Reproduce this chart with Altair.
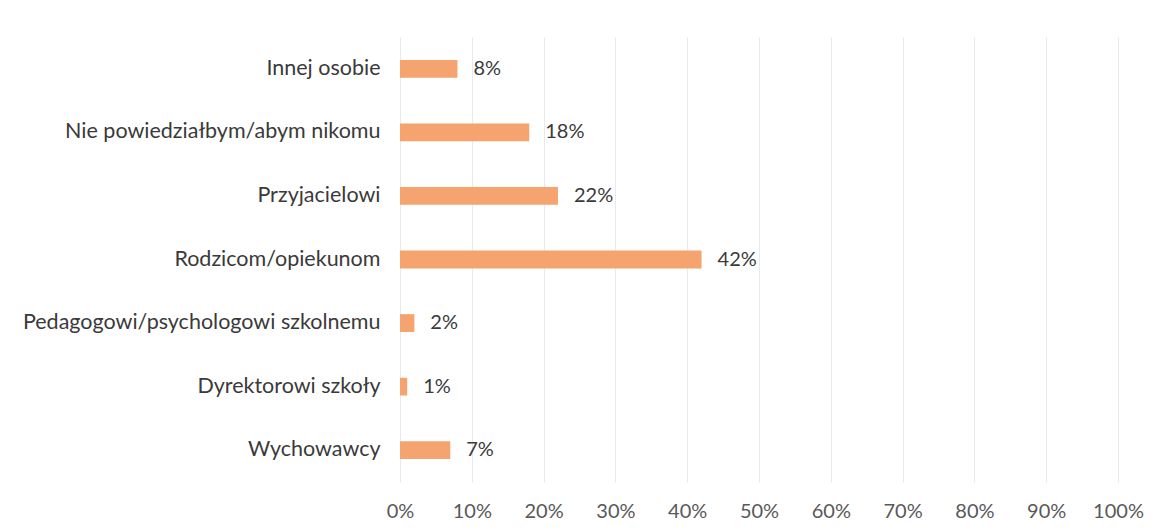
import altair as alt
import pandas as pd

categories = ["Innej osobie", "Nie powiedziałbym/abym nikomu", "Przyjacielowi",
              "Rodzicom/opiekunom", "Pedagogowi/psychologowi szkolnemu",
              "Dyrektorowi szkoły", "Wychowawcy"]
values = [8, 18, 22, 42, 2, 1, 7]

df = pd.DataFrame({"cat": categories, "val": values})
df["label"] = df["val"].astype(str) + "%"

FONT = "Lato"

y = alt.Y("cat:N", sort=categories, title=None,
          scale=alt.Scale(paddingInner=0.72, paddingOuter=0.36),
          axis=alt.Axis(domain=False, ticks=False, labelPadding=20, labelLimit=500,
                        labelFontSize=21.5, labelColor="#3a3a3a", labelFont=FONT,
                        grid=False))
x = alt.X("val:Q", title=None,
          scale=alt.Scale(domain=[0, 100]),
          axis=alt.Axis(values=list(range(0, 101, 10)), labelExpr="datum.value + '%'",
                        domain=False, ticks=False, labelPadding=19, labelFlush=False,
                        labelFontSize=20, labelColor="#595959", labelFont=FONT,
                        grid=True, gridColor="#e6eaf0", gridWidth=1))

bars = alt.Chart(df).mark_bar(color="#F5A46F").encode(x=x, y=y)
text = alt.Chart(df).mark_text(align="left", dx=16, fontSize=20, font=FONT,
                               color="#3a3a3a").encode(x="val:Q", y=alt.Y("cat:N", sort=categories), text="label:N")

chart = (bars + text).properties(
    width=718, height=445,
    background="white",
    autosize=alt.AutoSizeParams(type="none"),
    padding={"left": 392, "top": 29, "right": 40, "bottom": 50},
).configure_view(stroke=None)

chart.save("out.html", embed_options={"renderer": "svg", "actions": False})
